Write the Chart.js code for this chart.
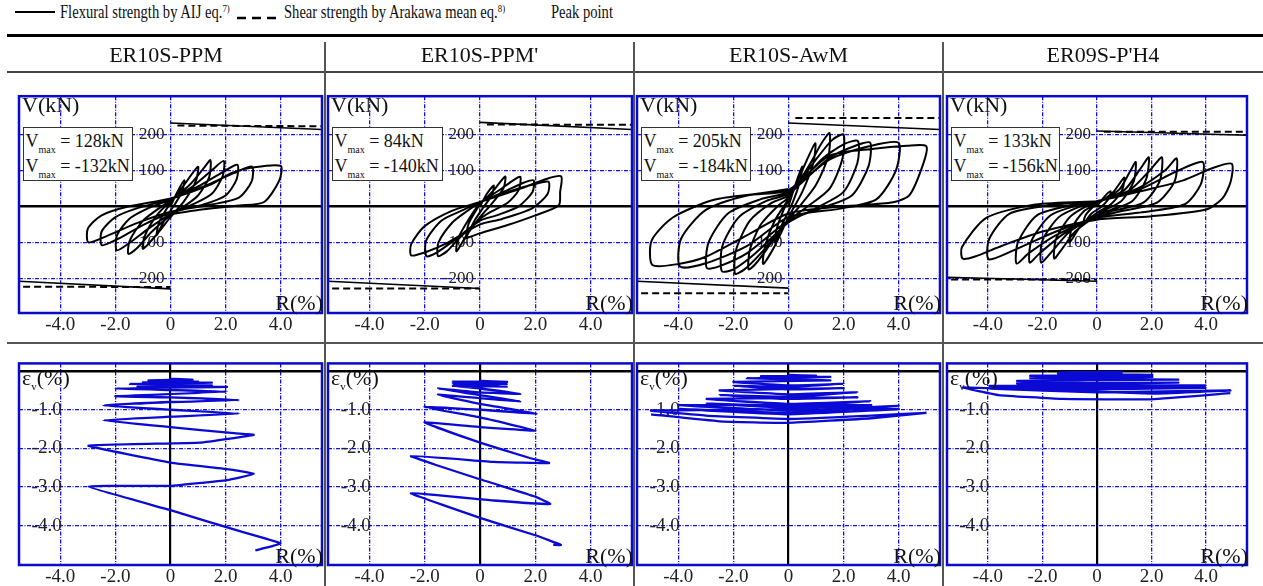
<!DOCTYPE html>
<html>
<head>
<meta charset="utf-8">
<title>Hysteresis and vertical strain</title>
<script src="https://cdn.jsdelivr.net/npm/chart.js@4.4.1/dist/chart.umd.min.js"></script>
<style>
  body { margin: 0; width: 1263px; height: 586px; position: relative; overflow: hidden; background: #fff;
         font-family: "Liberation Serif", "Times New Roman", serif; color: #111; }
  canvas { position: absolute; }
  .abs { position: absolute; white-space: nowrap; }
  .hdr { position: absolute; top: 41px; height: 28px; line-height: 28px; font-size: 22px; text-align: center; }
  .leg { position: absolute; top: 2px; font-size: 18px; line-height: 20px; white-space: nowrap;
         transform: scaleX(0.81); transform-origin: 0 0; }
  .leg sup { font-size: 11px; vertical-align: 6px; line-height: 0; }
  .ax { position: absolute; font-size: 22px; line-height: 22px; white-space: nowrap; }
  .ax sub { font-size: 11px; vertical-align: -5px; line-height: 0; }
  .vbox { position: absolute; top: 127px; height: 54px; border: 1.5px solid #333; background: #fff;
          font-size: 18px; line-height: 25px; padding: 1px 0 0 2px; box-sizing: border-box; white-space: nowrap; }
  .vbox sub { font-size: 10px; vertical-align: -6px; line-height: 0; }
</style>
</head>
<body>
<script>
// ---- values ----
const specimens = ['ER10S-PPM', "ER10S-PPM'", 'ER10S-AwM', "ER09S-P'H4"];
const vmaxPos = [128, 84, 205, 133];
const vmaxNeg = [-132, -140, -184, -156];

const xTicks = [-4, -2, 0, 2, 4];
const xTickLabels = ['-4.0', '-2.0', '0', '2.0', '4.0'];
const vTicks = [-200, -100, 0, 100, 200];
const vTickLabels = ['-200', '-100', '', '100', '200'];
const epsTicks = [-4, -3, -2, -1, 0];
const epsTickLabels = ['-4.0', '-3.0', '-2.0', '-1.0', ''];

// strength lines (V at both ends of the drift range)
const flexPosR = [0, 5.5];
const flexNegR = [-5.5, 0];
const flexPosV = [[231, 213], [233, 213], [231, 213], [209, 197]];
const flexNegV = [[-208, -229], [-208, -228], [-208, -227], [-197, -208]];
const shearPosR = [0.25, 5.5];
const shearNegR = [-5.35, 0];
const shearPosV = [[224, 222], [227, 226], [245, 245], [207, 207]];
const shearNegV = [[-223, -224], [-228, -228], [-241, -241], [-203, -203]];

// V - R hysteresis, [R(%), V(kN)]
const hystPPM = [
  [0,0],[0.25,40],[0.5,72],[0.42,40],[0.15,5],[-0.2,-35],[-0.5,-80],[-0.42,-45],[-0.15,-8],
  [0,8],[0.5,60],[1.0,110],[0.92,70],[0.5,15],[0,-30],[-0.5,-78],[-1.0,-118],[-0.92,-80],[-0.5,-25],
  [0,14],[0.7,60],[1.2,105],[1.45,128],[1.4,80],[1.0,30],[0.5,0],[0,-25],[-0.7,-72],[-1.2,-115],[-1.53,-132],[-1.48,-95],[-1.0,-40],[-0.5,-10],
  [0,16],[0.8,55],[1.5,100],[1.93,126],[1.9,85],[1.5,35],[0.8,5],[0,-22],[-0.8,-62],[-1.5,-102],[-1.95,-122],[-1.95,-82],[-1.5,-35],[-0.8,-5],
  [0,18],[1.0,55],[1.9,95],[2.43,115],[2.4,75],[2.0,30],[1.2,5],[0,-18],[-1.0,-52],[-1.9,-90],[-2.49,-108],[-2.5,-70],[-2.0,-30],[-1.2,-5],
  [0,20],[1.2,55],[2.3,92],[2.96,110],[2.95,70],[2.5,25],[1.5,5],[0,-15],[-1.2,-46],[-2.3,-82],[-2.98,-100],[-3.0,-62],[-2.5,-25],[-1.5,0],
  [0,22],[1.5,62],[2.2,92],[3.0,108],[4.0,112],[3.95,72],[3.4,12],[2.5,2],[1.0,-10],[0,-22]
];
const hystPPM2 = [
  [0,0],[0.25,35],[0.5,58],[0.42,30],[0.15,0],[-0.2,-40],[-0.5,-85],[-0.42,-50],[-0.15,-12],
  [0,5],[0.5,45],[0.91,83],[0.85,50],[0.4,5],[0,-30],[-0.5,-82],[-0.85,-125],[-0.8,-90],[-0.4,-35],
  [0,8],[0.8,50],[1.2,72],[1.46,82],[1.4,45],[1.0,10],[0.4,-15],[0,-35],[-0.8,-92],[-1.2,-125],[-1.52,-138],[-1.5,-100],[-1.0,-45],[-0.5,-15],
  [0,10],[1.0,45],[1.6,66],[1.94,72],[1.9,40],[1.4,0],[0.6,-25],[0,-40],[-1.0,-98],[-1.6,-130],[-1.94,-138],[-1.95,-95],[-1.4,-40],[-0.6,-10],
  [0,12],[1.2,45],[2.0,62],[2.48,68],[2.45,35],[1.9,-5],[0.8,-35],[0,-50],[-1.2,-102],[-2.0,-128],[-2.49,-136],[-2.49,-105],[-2.0,-55],[-1.0,-12],
  [0,12],[1.5,50],[2.4,76],[2.94,83],[2.9,40],[2.85,3],[2.0,-25],[1.0,-52],[0,-75],[-0.6,-91]
];
const hystAwM = [
  [0,0],[0.25,60],[0.5,110],[0.42,70],[0.15,10],[-0.2,-45],[-0.5,-100],[-0.42,-60],[-0.15,-5],
  [0,15],[0.5,100],[0.97,175],[0.9,120],[0.5,40],[0,-30],[-0.5,-110],[-0.92,-160],[-0.85,-110],[-0.5,-40],
  [0,20],[0.8,120],[1.2,175],[1.49,203],[1.45,140],[1.0,60],[0.4,0],[0,-35],[-0.8,-120],[-1.2,-160],[-1.45,-175],[-1.4,-120],[-1.0,-50],[-0.4,0],
  [0,25],[1.0,130],[1.6,185],[2.0,199],[1.95,130],[1.5,50],[0.7,0],[0,-40],[-1.0,-130],[-1.6,-175],[-1.94,-187],[-1.9,-120],[-1.4,-40],[-0.6,10],
  [0,30],[1.2,130],[2.0,172],[2.52,181],[2.5,120],[2.0,40],[1.0,-5],[0,-45],[-1.2,-130],[-2.0,-175],[-2.42,-180],[-2.4,-110],[-1.8,-30],[-0.8,15],
  [0,35],[1.5,135],[2.5,170],[2.97,176],[2.9,110],[2.3,30],[1.2,-5],[0,-40],[-1.5,-130],[-2.5,-166],[-2.97,-171],[-2.9,-100],[-2.2,-20],[-1.0,20],
  [0,40],[1.5,130],[3.0,168],[4.0,176],[3.9,100],[3.2,20],[2.0,-5],[0,-30],[-1.5,-110],[-3.0,-158],[-3.94,-167],[-3.9,-90],[-3.0,-10],[-1.5,30],
  [0,45],[1.47,140],[3.1,160],[4.3,168],[5.0,167],[4.9,120],[4.4,32],[3.8,11],[2.0,0],[0,-20],[-1.5,-80],[-3.0,-140],[-4.0,-160],[-4.94,-163],[-4.97,-95],[-4.2,-31],[-2.7,18],[-1.0,36],[0,48]
];
const hystPH4 = [
  [0,0],[0.25,25],[0.5,42],[0.42,20],[0.15,-2],[-0.2,-20],[-0.5,-48],[-0.42,-25],[-0.15,-2],
  [0,5],[0.6,40],[1.0,80],[0.92,45],[0.5,5],[0,-18],[-0.6,-55],[-1.0,-100],[-0.92,-60],[-0.5,-15],
  [0,8],[0.8,45],[1.2,95],[1.42,123],[1.35,70],[0.9,15],[0.3,-10],[0,-25],[-0.8,-70],[-1.3,-120],[-1.57,-145],[-1.5,-90],[-1.0,-30],[-0.4,0],
  [0,10],[1.0,45],[1.6,105],[1.9,136],[1.8,75],[1.3,15],[0.5,-10],[0,-25],[-1.0,-70],[-1.7,-130],[-2.05,-156],[-2.0,-95],[-1.4,-30],[-0.6,0],
  [0,12],[1.2,45],[2.0,105],[2.38,136],[2.3,70],[1.7,10],[0.6,-12],[0,-28],[-1.2,-75],[-2.1,-130],[-2.47,-156],[-2.4,-95],[-1.7,-25],[-0.7,3],
  [0,14],[1.5,50],[2.5,100],[2.92,133],[2.85,70],[2.2,10],[0.8,-15],[0,-30],[-1.5,-80],[-2.5,-130],[-2.95,-159],[-2.9,-100],[-2.2,-25],[-0.8,5],
  [0,14],[1.5,45],[3.0,100],[3.88,123],[3.8,60],[3.2,5],[1.5,-18],[0,-32],[-1.5,-70],[-3.0,-120],[-3.97,-147],[-3.95,-90],[-3.2,-20],[-1.5,5],
  [0,14],[1.5,40],[3.16,72],[4.2,105],[4.94,118],[4.9,68],[4.6,22],[4.0,-9],[1.94,-28],[0,-37],[-2.0,-70],[-3.5,-110],[-4.5,-140],[-4.93,-145],[-4.95,-113],[-4.06,-32],[-2.26,5],[0,14]
];

// vertical strain - R, [R(%), eps_v(%)]
const epsPPM = [
  [0,-0.2],[0.8,-0.22],[-0.8,-0.24],[1.0,-0.27],[-1.0,-0.29],[1.5,-0.3],[-1.47,-0.33],[1.5,-0.37],[-1.2,-0.4],
  [2.05,-0.41],[-2.0,-0.45],[2.05,-0.53],[-2.0,-0.65],
  [0,-0.68],[2.5,-0.75],[0,-0.8],[-2.44,-0.89],[0,-1.0],[2.5,-1.1],[0,-1.18],[-2.44,-1.27],
  [0,-1.45],[2.2,-1.6],[3.02,-1.65],[1.08,-1.85],[-2.98,-1.93],[0,-2.37],[2.2,-2.55],[3.02,-2.66],[2.05,-2.82],[0,-2.97],[-2.98,-2.99],
  [0,-3.6],[2.3,-4.1],[3.99,-4.46],[3.08,-4.64]
];
const epsPPM2 = [
  [0,-0.25],[0.98,-0.28],[-0.98,-0.27],[0.98,-0.33],[-0.98,-0.32],[0.98,-0.4],[-0.98,-0.38],[0,-0.45],
  [1.46,-0.59],[0,-0.55],[-1.52,-0.45],[0,-0.62],[1.46,-0.78],[0,-0.7],[-1.52,-0.61],[0,-0.85],
  [2.05,-1.1],[0,-1.0],[-2.01,-0.93],[0,-1.2],[2.0,-1.54],[0,-1.45],[-2.01,-1.33],[0,-1.85],[1.8,-2.25],
  [2.5,-2.38],[0.5,-2.35],[-2.5,-2.2],[0,-2.8],[2.0,-3.25],[2.54,-3.44],[0.5,-3.35],[-2.5,-3.16],
  [0,-3.8],[2.0,-4.25],[2.93,-4.5],[2.65,-4.5]
];
const epsAwM = [
  [0,-0.1],[1.0,-0.12],[-1.0,-0.13],[1.52,-0.15],[-1.51,-0.18],[1.52,-0.24],[-2.0,-0.28],[0,-0.37],[2.0,-0.33],[0,-0.41],[-2.0,-0.38],[0,-0.47],[2.0,-0.44],
  [-2.5,-0.5],[0,-0.6],[2.5,-0.55],[0,-0.66],[-2.5,-0.62],[0,-0.72],[2.5,-0.68],
  [-2.97,-0.72],[0,-0.85],[2.97,-0.78],[0,-0.9],[-2.97,-0.84],[0,-0.95],[3.0,-0.88],
  [-3.97,-0.88],[0,-1.02],[4.0,-0.9],[0,-1.08],[-3.97,-0.98],[0,-1.12],[4.0,-0.98],
  [-4.99,-1.02],[-3.0,-1.15],[0,-1.24],[3.0,-1.15],[5.01,-1.08],[3.0,-1.22],[0,-1.34],[-2.5,-1.3],[-4.99,-1.12]
];
const epsPH4 = [
  [0,-0.02],[0.9,-0.02],[-1.43,-0.03],[0.9,-0.05],[-1.43,-0.06],[2.03,-0.1],[-2.45,-0.12],[0,-0.18],[2.03,-0.15],[-2.45,-0.18],
  [2.98,-0.22],[-2.93,-0.25],[0,-0.32],[2.98,-0.3],[-2.93,-0.32],[0,-0.38],
  [3.97,-0.37],[-3.94,-0.38],[0,-0.47],[3.97,-0.43],[-3.94,-0.45],[0,-0.55],
  [4.89,-0.5],[2.0,-0.58],[-4.92,-0.42],[-3.6,-0.62],[-1.3,-0.72],[2.0,-0.73],[4.89,-0.57]
];

const hystData = [hystPPM, hystPPM2, hystAwM, hystPH4];
const epsData = [epsPPM, epsPPM2, epsAwM, epsPH4];

// ---- layout (page pixels) ----
const colLeft = [19, 328, 637, 947];
const colRight = [322, 632, 940, 1247];
const cellEdges = [7, 325, 634, 943, 1263];
const topRow = [89, 313];
const botRow = [355, 565];

const gridBlue = '#1010ec';
const frameBlue = '#0a0acc';
const epsBlue = '#0a0ad4';
const fontFamily = '"Liberation Serif", "Times New Roman", serif';
Chart.defaults.font.family = fontFamily;

function el(tag, cls, style, html) {
    const e = document.createElement(tag);
    if (cls) e.className = cls;
    Object.assign(e.style, style || {});
    if (html !== undefined) e.innerHTML = html;
    document.body.appendChild(e);
    return e;
}

const toXY = pts => pts.map(p => ({ x: p[0], y: p[1] }));
const seg = (r, v) => [{ x: r[0], y: v[0] }, { x: r[1], y: v[1] }];

// blue frame round the plot area
const framePlugin = {
    id: 'frame',
    afterDraw(chart) {
        const { ctx, chartArea: a } = chart;
        ctx.save();
        ctx.strokeStyle = frameBlue;
        ctx.lineWidth = 2.5;
        ctx.strokeRect(a.left, a.top, a.right - a.left, a.bottom - a.top);
        ctx.restore();
    }
};

/**
 * One panel: canvas covering the frame plus the tick label strip below it
 */
function makePanel(col, row, datasets, yCfg) {
    const cv = el('canvas', null, {
        left: (colLeft[col] - 3) + 'px',
        top: (row[0] - 3) + 'px'
    });
    cv.width = colRight[col] - colLeft[col] + 6;
    cv.height = row[1] - row[0] + 34;

    const isZero = c => c.tick && c.tick.value === 0;
    new Chart(cv, {
        type: 'scatter',
        data: { datasets },
        options: {
            animation: false,
            responsive: false,
            events: [],
            layout: { padding: { left: 3, right: 3, top: 3, bottom: 0 } },
            plugins: { legend: { display: false }, tooltip: { enabled: false } },
            elements: { point: { radius: 0 } },
            scales: {
                x: {
                    type: 'linear', min: -5.5, max: 5.5,
                    afterBuildTicks: s => { s.ticks = xTicks.map(v => ({ value: v })); },
                    afterFit: s => { s.height = 31; },
                    ticks: {
                        autoSkip: false, maxRotation: 0, padding: 1, color: '#222',
                        font: { size: 19 },
                        callback: v => xTickLabels[xTicks.indexOf(v)]
                    },
                    grid: {
                        drawTicks: false,
                        color: c => (yCfg.blackX && isZero(c)) ? '#000' : gridBlue,
                        lineWidth: c => (yCfg.blackX && isZero(c)) ? 2.2 : 1.3
                    },
                    border: { display: false, dash: c => (yCfg.blackX && isZero(c)) ? [] : [4, 1.5, 1, 1.5] }
                },
                y: {
                    type: 'linear', min: yCfg.min, max: yCfg.max,
                    position: { x: yCfg.at },
                    afterBuildTicks: s => { s.ticks = yCfg.ticks.map(v => ({ value: v })); },
                    ticks: {
                        autoSkip: false, color: '#222', padding: 0,
                        font: { size: yCfg.fontSize },
                        callback: v => yCfg.labels[yCfg.ticks.indexOf(v)]
                    },
                    grid: {
                        drawTicks: false,
                        color: c => isZero(c) ? '#000' : gridBlue,
                        lineWidth: c => isZero(c) ? 2.5 : 1.3
                    },
                    border: { display: false, dash: c => isZero(c) ? [] : [4, 1.5, 1, 1.5] }
                }
            }
        },
        plugins: [framePlugin]
    });
}

// ---- panels ----
for (let i = 0; i < 4; i++) {
    const line = (data, w, dash, color, tension) => ({
        data, showLine: true, borderColor: color || '#000', borderWidth: w,
        borderDash: dash || [], tension: tension || 0, pointRadius: 0, fill: false
    });
    makePanel(i, topRow, [
        line(seg(flexPosR, flexPosV[i]), 1.6),
        line(seg(flexNegR, flexNegV[i]), 1.6),
        line(seg(shearPosR, shearPosV[i]), 2, [7, 4]),
        line(seg(shearNegR, shearNegV[i]), 2, [7, 4]),
        line(toXY(hystData[i]), 2, null, '#000', 0.25)
    ], { min: -296, max: 305.5, at: -0.22, ticks: vTicks, labels: vTickLabels, fontSize: 17, blackX: false });

    makePanel(i, botRow, [
        line(toXY(epsData[i]), 2.3, null, epsBlue, 0.1)
    ], { min: -5.02, max: 0.2, at: -3.95, ticks: epsTicks, labels: epsTickLabels, fontSize: 19, blackX: true });
}

// ---- rules and separators ----
el('div', 'abs', { left: '7px', top: '34px', width: '1256px', height: '3px', background: '#000' });
el('div', 'abs', { left: '7px', top: '71px', width: '1256px', height: '2px', background: '#444' });
el('div', 'abs', { left: '7px', top: '342px', width: '1256px', height: '2px', background: '#555' });
[324, 633, 942].forEach(x => el('div', 'abs', { left: x + 'px', top: '42px', width: '2px', height: '544px', background: '#555' }));

// ---- legend ----
el('div', 'abs', { left: '15px', top: '11px', width: '40px', height: '2px', background: '#000' });
el('div', 'leg', { left: '60px' }, 'Flexural strength by AIJ eq.<sup>7)</sup>');
el('div', 'abs', { left: '237px', top: '8px', width: '44px', height: '8px' },
   '<svg width="44" height="8"><line x1="0" y1="4" x2="44" y2="4" stroke="#000" stroke-width="2.5" stroke-dasharray="9,6"/></svg>');
el('div', 'leg', { left: '284px' }, 'Shear strength by Arakawa mean eq.<sup>8)</sup>');
el('div', 'leg', { left: '551px' }, 'Peak point');

// ---- headers and in-plot labels ----
for (let i = 0; i < 4; i++) {
    el('div', 'hdr', { left: cellEdges[i] + 'px', width: (cellEdges[i + 1] - cellEdges[i]) + 'px' }, specimens[i]);

    const x0 = (colLeft[i] + colRight[i]) / 2;
    el('div', 'ax', { left: (colLeft[i] + 3) + 'px', top: '94px' }, 'V(kN)');
    el('div', 'vbox', { left: (colLeft[i] + 3.5) + 'px', width: (x0 - 37.5 - colLeft[i] - 3.5) + 'px' },
       'V<sub>max</sub> = ' + vmaxPos[i] + 'kN<br>V<sub>max</sub> = ' + vmaxNeg[i] + 'kN');
    el('div', 'ax', { right: (1263 - colRight[i] - 1) + 'px', top: '292px' }, 'R(%)');

    el('div', 'ax', { left: (colLeft[i] + 3) + 'px', top: '367px' }, '&epsilon;<sub>v</sub>(%)');
    el('div', 'ax', { right: (1263 - colRight[i] - 1) + 'px', top: '545px' }, 'R(%)');
}
</script>
</body>
</html>
